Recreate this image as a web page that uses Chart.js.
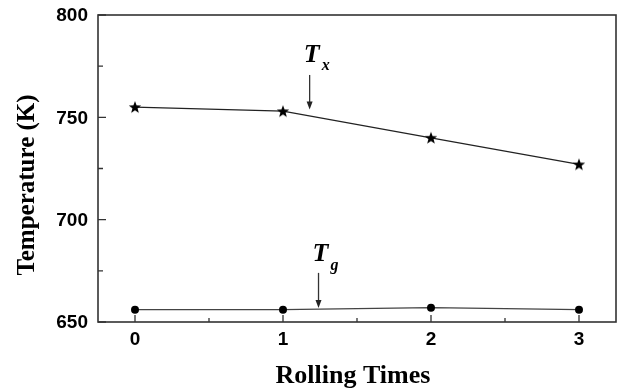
<!DOCTYPE html>
<html><head><meta charset="utf-8">
<script src="https://cdn.jsdelivr.net/npm/chart.js@4/dist/chart.umd.min.js"></script>
<style>html,body{margin:0;padding:0;background:#fff}#wrap{width:617px;height:392px}</style>
</head><body><div id="wrap"><canvas id="c" width="617" height="392"></canvas></div>
<script>
const rollingTimes = [0, 1, 2, 3];
const tx = [755, 753, 740, 727];
const tg = [656, 656, 657, 656];
const xTicks = [0, 1, 2, 3];
const xMinorTicks = [0.5, 1.5, 2.5];
const yTicks = [650, 700, 750, 800];
const yMinorTicks = [675, 725, 775];
const xTitle = 'Rolling Times';
const yTitle = 'Temperature (K)';
const notes = [
  {label: 'T', sub: 'x', x: 1.18, yFrom: 770.7, yTo: 753.8, yText: 780.5},
  {label: 'T', sub: 'g', x: 1.24, yFrom: 674, yTo: 656.9, yText: 683}
];

function starImg() {
  const c = document.createElement('canvas');
  c.width = 16; c.height = 16;
  const g = c.getContext('2d');
  g.fillStyle = '#000';
  g.beginPath();
  for (let i = 0; i < 10; i++) {
    const r = i % 2 === 0 ? 6.5 : 2.7;
    const a = -Math.PI / 2 + i * Math.PI / 5;
    const px = 8 + r * Math.cos(a), py = 8.5 + r * Math.sin(a);
    i === 0 ? g.moveTo(px, py) : g.lineTo(px, py);
  }
  g.closePath(); g.fill();
  return c;
}

const decor = {
  id: 'decor',
  afterDraw(chart) {
    const {ctx, chartArea: a, scales: {x, y}} = chart;
    ctx.save();
    ctx.strokeStyle = '#333';
    ctx.lineWidth = 1.6;
    ctx.strokeRect(a.left, a.top, a.right - a.left, a.bottom - a.top);
    ctx.lineWidth = 1.3;
    ctx.beginPath();
    xTicks.forEach(v => { const p = x.getPixelForValue(v); ctx.moveTo(p, a.bottom); ctx.lineTo(p, a.bottom - 7); });
    xMinorTicks.forEach(v => { const p = x.getPixelForValue(v); ctx.moveTo(p, a.bottom); ctx.lineTo(p, a.bottom - 4); });
    yTicks.forEach(v => { const p = y.getPixelForValue(v); ctx.moveTo(a.left, p); ctx.lineTo(a.left + 8, p); });
    yMinorTicks.forEach(v => { const p = y.getPixelForValue(v); ctx.moveTo(a.left, p); ctx.lineTo(a.left + 5, p); });
    ctx.stroke();
    // tick labels
    ctx.fillStyle = '#000';
    ctx.font = 'bold 19px "Liberation Sans"';
    ctx.textBaseline = 'middle';
    ctx.textAlign = 'right';
    yTicks.forEach(v => ctx.fillText(String(v), a.left - 10, y.getPixelForValue(v) + 1));
    ctx.textAlign = 'center';
    xTicks.forEach(v => ctx.fillText(String(v), x.getPixelForValue(v), a.bottom + 18));
    // titles
    ctx.font = 'bold 26px "Liberation Serif"';
    ctx.textBaseline = 'alphabetic';
    ctx.fillText(xTitle, 353, 383);
    ctx.save();
    ctx.translate(34, 185);
    ctx.rotate(-Math.PI / 2);
    ctx.font = 'bold 25px "Liberation Serif"';
    ctx.fillText(yTitle, 0, 0);
    ctx.restore();
    // annotations
    notes.forEach(n => {
      const px = x.getPixelForValue(n.x);
      const y0 = y.getPixelForValue(n.yFrom), y1 = y.getPixelForValue(n.yTo);
      ctx.strokeStyle = '#333'; ctx.fillStyle = '#222'; ctx.lineWidth = 1.3;
      ctx.beginPath(); ctx.moveTo(px, y0); ctx.lineTo(px, y1 - 6); ctx.stroke();
      ctx.beginPath(); ctx.moveTo(px - 3, y1 - 8); ctx.lineTo(px + 3, y1 - 8); ctx.lineTo(px, y1); ctx.closePath(); ctx.fill();
      const ty = y.getPixelForValue(n.yText);
      ctx.fillStyle = '#000';
      ctx.font = 'italic bold 26px "Liberation Serif"';
      ctx.textAlign = 'center'; ctx.textBaseline = 'middle';
      ctx.fillText(n.label, px + 2, ty);
      ctx.font = 'italic bold 16px "Liberation Serif"';
      ctx.textAlign = 'left';
      ctx.fillText(n.sub, px + 12, ty + 11);
    });
    ctx.restore();
  }
};

const star = starImg();
new Chart(document.getElementById('c'), {
  type: 'line',
  data: {
    labels: rollingTimes,
    datasets: [
      {data: rollingTimes.map((v, i) => ({x: v, y: tx[i]})), borderColor: '#222', borderWidth: 1.2, pointStyle: star, pointRadius: 7},
      {data: rollingTimes.map((v, i) => ({x: v, y: tg[i]})), borderColor: '#444', borderWidth: 1.2, pointStyle: 'circle', pointRadius: 4, pointBackgroundColor: '#000', pointBorderColor: '#000', pointBorderWidth: 0}
    ]
  },
  options: {
    responsive: false, animation: false, devicePixelRatio: 1,
    layout: {autoPadding: false, padding: {top: 15, right: 1, left: 0, bottom: 0}},
    plugins: {legend: {display: false}, tooltip: {enabled: false}},
    scales: {
      x: {
        type: 'linear', min: -0.25, max: 3.25,
        afterBuildTicks: s => { s.ticks = xTicks.map(v => ({value: v})); },
        afterFit: s => { s.height = 70; },
        grid: {display: false, drawTicks: false}, border: {display: false},
        ticks: {display: false}
      },
      y: {
        min: 650, max: 800,
        afterBuildTicks: s => { s.ticks = yTicks.map(v => ({value: v})); },
        afterFit: s => { s.width = 98; },
        grid: {display: false, drawTicks: false}, border: {display: false},
        ticks: {display: false}
      }
    }
  },
  plugins: [decor]
});
</script></body></html>
